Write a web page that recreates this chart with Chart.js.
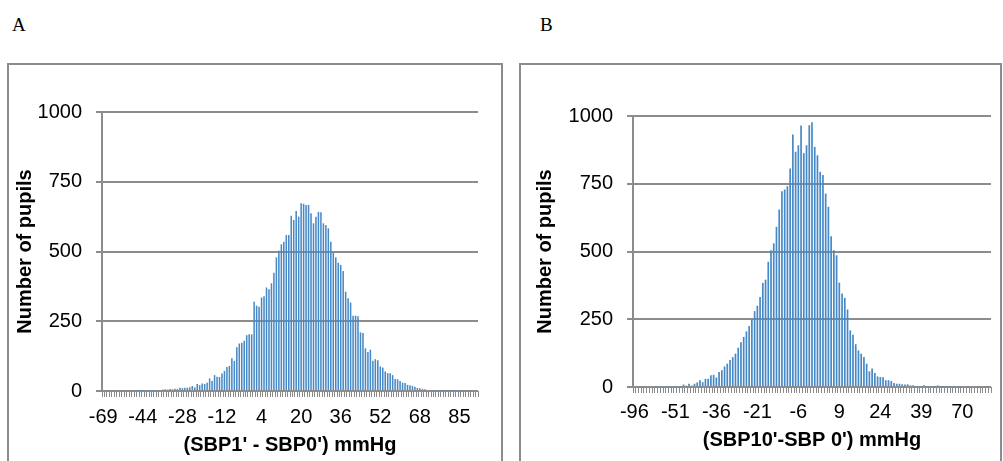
<!DOCTYPE html>
<html>
<head>
<meta charset="utf-8">
<script src="https://cdn.jsdelivr.net/npm/chart.js@4.4.0/dist/chart.umd.min.js"></script>
<style>
    html, body { margin: 0; padding: 0; background: #fff; overflow: hidden; }
    body { width: 1003px; height: 461px; position: relative; }
    .panel-letter { position: absolute; top: 14px; font: 19px 'Liberation Serif', 'Times New Roman', serif; color: #000; }
    .box { position: absolute; top: 63px; height: 420px; border: 2px solid #8c8c8c; box-sizing: border-box; }
    canvas { position: absolute; }
</style>
</head>
<body>
<div class="panel-letter" style="left:12px;">A</div>
<div class="panel-letter" style="left:540px;">B</div>
<div class="box" style="left:7px; width:496px;"></div>
<div class="box" style="left:519px; width:483px;"></div>
<canvas id="chartA" width="490" height="395" style="left:9px; top:66px;"></canvas>
<canvas id="chartB" width="478" height="395" style="left:521px; top:66px;"></canvas>

<script>
// Panel A: SBP1' - SBP0' (mmHg)
const catsA = [
    -69, -66, -63, -61, -59, -57, -55, -53, -52, -51, -50, -49, -48, -47, -46, -45, -44,
    -43, -42, -41, -40, -39, -38, -37, -36, -35, -34, -33, -32, -31, -30, -29, -28,
    -27, -26, -25, -24, -23, -22, -21, -20, -19, -18, -17, -16, -15, -14, -13, -12,
    -11, -10, -9, -8, -7, -6, -5, -4, -3, -2, -1, 0, 1, 2, 3, 4,
    5, 6, 7, 8, 9, 10, 11, 12, 13, 14, 15, 16, 17, 18, 19, 20,
    21, 22, 23, 24, 25, 26, 27, 28, 29, 30, 31, 32, 33, 34, 35, 36,
    37, 38, 39, 40, 41, 42, 43, 44, 45, 46, 47, 48, 49, 50, 51, 52,
    53, 54, 55, 56, 57, 58, 59, 60, 61, 62, 63, 64, 65, 66, 67, 68,
    69, 70, 71, 72, 73, 74, 75, 76, 77, 78, 79, 80, 81, 83, 84, 85,
    86, 87, 88, 89, 91, 93, 96
];
const pupilsA = [
    0, 0, 1, 0, 0, 1, 0, 0, 0, 1, 0, 0, 1, 0, 1, 1,
    1, 0, 2, 1, 2,
    3, 3, 4, 5, 6, 5, 7, 6, 8, 7,
    12, 10, 12, 12, 13, 18, 13, 25, 21, 27,
    25, 30, 45, 36, 57, 51, 50, 63, 72, 86,
    90, 117, 108, 157, 170, 173, 180, 200, 203, 203,
    320, 306, 302, 335, 340, 371, 365, 386, 424, 479,
    503, 526, 535, 559, 559, 628, 613, 645, 625, 673,
    671, 667, 667, 637, 601, 625, 642, 641, 601, 595,
    583, 535, 496, 479, 460, 452, 430, 356, 332, 317,
    270, 270, 268, 210, 208, 153, 140, 148, 108, 114,
    110, 88, 84, 70, 64, 64, 57, 43, 42, 36,
    30, 29, 22, 21, 18, 15, 11, 10, 7, 6,
    4, 4, 3, 2, 3, 1, 1, 2, 1, 3,
    1, 1, 0, 1, 0, 0, 1, 0, 0, 0, 0
];

// Panel B: SBP10' - SBP0' (mmHg)
const catsB = [
    -96, -88, -81, -76, -72, -68, -65, -62, -60, -58, -57, -56, -55, -54, -52, -51,
    -50, -49, -48, -47, -46, -45, -44, -43, -42, -41, -40, -39, -38, -37, -36,
    -35, -34, -33, -32, -31, -30, -29, -28, -27, -26, -25, -24, -23, -22, -21,
    -20, -19, -18, -17, -16, -15, -14, -13, -12, -11, -10, -9, -8, -7, -6,
    -5, -4, -3, -2, -1, 0, 1, 2, 3, 4, 5, 6, 7, 8, 9,
    10, 11, 12, 13, 14, 15, 16, 17, 18, 19, 20, 21, 22, 23, 24,
    25, 26, 27, 28, 29, 30, 31, 32, 33, 34, 35, 36, 37, 38, 39,
    40, 41, 42, 43, 44, 45, 46, 47, 49, 51, 53, 56, 59, 64, 70,
    71, 73, 75, 77, 80, 83, 86, 90, 95, 101
];
const pupilsB = [
    0, 0, 0, 1, 0, 0, 0, 0, 1, 0, 0, 0, 1, 0, 0, 1, 0,
    2, 9, 5, 12,
    5, 12, 17, 25, 18, 30, 30, 43, 45, 35,
    55, 62, 76, 86, 100, 110, 123, 145, 165, 185,
    205, 225, 250, 280, 300, 332, 384, 396, 462, 505,
    530, 591, 655, 722, 729, 741, 806, 932, 868, 892,
    965, 863, 892, 966, 977, 886, 855, 794, 782, 714,
    665, 556, 505, 486, 385, 345, 329, 286, 209, 193,
    158, 135, 123, 111, 86, 58, 68, 52, 39, 37,
    36, 25, 25, 22, 15, 12, 12, 10, 9, 10,
    6, 6, 3, 3, 2, 6, 2, 2, 3, 1,
    6, 1, 2, 1, 1, 0, 1, 0, 1, 0,
    0, 1, 0, 0, 0, 1, 0, 0, 0, 0
];

const yTicks = [0, 250, 500, 750, 1000];

const FONT = "'Liberation Sans', Arial, sans-serif";
const GRID = '#8c8c8c';

const makeHistogram = (id, cats, values, cfg) => {
    new Chart(document.getElementById(id), {
        type: 'bar',
        data: {
            labels: cats,
            datasets: [{
                data: values,
                backgroundColor: '#4689c6',
                borderWidth: 0,
                barPercentage: 0.62,
                categoryPercentage: 1.0
            }]
        },
        options: {
            responsive: false,
            animation: false,
            events: [],
            layout: { padding: { top: cfg.padTop, right: cfg.padRight, bottom: 0, left: 0 } },
            plugins: { legend: { display: false }, tooltip: { enabled: false } },
            scales: {
                x: {
                    afterFit: (s) => { s.height = cfg.xHeight; },
                    grid: { drawOnChartArea: false, drawTicks: true, tickLength: 6, color: '#8a8a8a', lineWidth: 1 },
                    border: { display: false },
                    ticks: {
                        autoSkip: false,
                        maxRotation: 0,
                        minRotation: 0,
                        padding: cfg.xTickPad,
                        color: '#000',
                        font: { family: FONT, size: 20 },
                        // Excel only shows every Nth category
                        callback: (val, idx) => (idx % cfg.every === 0 ? String(cats[idx]) : '')
                    },
                    title: {
                        display: true,
                        text: cfg.xTitle,
                        color: '#000',
                        font: { family: FONT, size: 20, weight: 'bold' },
                        padding: { top: 2, bottom: cfg.xTitlePad }
                    }
                },
                y: {
                    min: 0,
                    max: 1000,
                    z: 1,
                    afterFit: (s) => { s.width = cfg.yWidth; },
                    afterBuildTicks: (s) => { s.ticks = yTicks.map(v => ({ value: v })); },
                    grid: { color: GRID, lineWidth: 2, tickLength: 6 },
                    border: { color: GRID, width: 2 },
                    ticks: {
                        padding: 14,
                        color: '#000',
                        font: { family: FONT, size: 20 },
                        callback: (v) => String(v)
                    },
                    title: {
                        display: true,
                        text: 'Number of pupils',
                        color: '#000',
                        font: { family: FONT, size: 20, weight: 'bold' },
                        padding: { top: cfg.yTitlePad, bottom: 0 }
                    }
                }
            }
        }
    });
};

makeHistogram('chartA', catsA, pupilsA, {
    every: 16, xTitle: "(SBP1' - SBP0') mmHg",
    padTop: 46, padRight: 21, xHeight: 70, yWidth: 93,
    xTickPad: 8, xTitlePad: 4, yTitlePad: 4
});

makeHistogram('chartB', catsB, pupilsB, {
    every: 15, xTitle: "(SBP10'-SBP 0') mmHg",
    padTop: 50, padRight: 8, xHeight: 74, yWidth: 112,
    xTickPad: 7, xTitlePad: 9, yTitlePad: 12
});
</script>
</body>
</html>
